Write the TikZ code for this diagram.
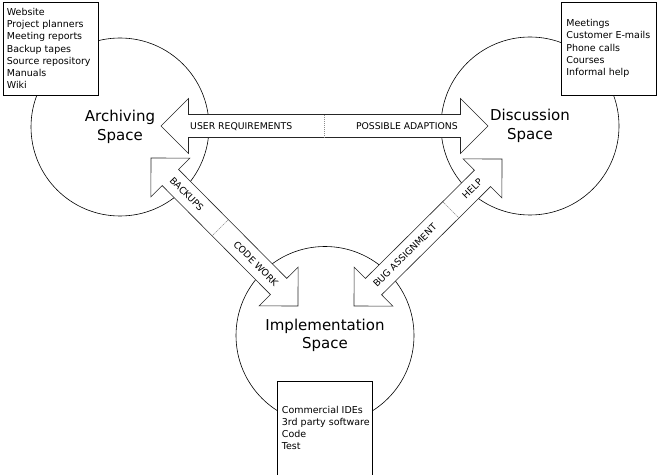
\documentclass[tikz,border=0pt]{standalone}
\usepackage{fontspec}
\setmainfont{DejaVu Sans}
\tikzset{
  spacecircle/.style={draw=black, circle, line width=0.6pt, inner sep=0pt, minimum size=178pt,
    align=center, font=\fontsize{15}{18.5}\selectfont},
  arrowbody/.style={draw=black!85, fill=white, line width=0.6pt, line join=miter},
  divider/.style={draw=black!45, line width=0.6pt, dash pattern=on 1.2pt off 0.8pt},
  arrowlabel/.style={inner sep=0pt, transform shape, text height=6.8pt, text depth=0pt,
    font=\fontsize{9.3}{11}\selectfont},
  listbox/.style={draw=black, fill=white, line width=0.6pt, minimum width=95pt, minimum height=93pt, inner sep=0pt},
  listtext/.style={anchor=west, align=left, inner sep=0pt, font=\fontsize{9.5}{12.2}\selectfont},
}
\newcommand\blockarrow[7]{%
  \begin{scope}[shift={#2}, rotate=#3]
    \draw[arrowbody] (0,0) -- (27.5,27.5) -- (27.5,11.5) -- (#4-27.5,11.5) -- (#4-27.5,27.5)
      -- (#4,0) -- (#4-27.5,-27.5) -- (#4-27.5,-11.5) -- (27.5,-11.5) -- (27.5,-27.5) -- cycle;
    \draw[divider] (#5,11.2) -- (#5,-11.2);
    \node[arrowlabel, anchor=west] (#1a) at (29,0) {#6};
    \node[arrowlabel, anchor=east] (#1b) at (#4-30,0) {#7};
  \end{scope}}
\begin{document}
\begin{tikzpicture}[x=1pt, y=1pt]
  \useasboundingbox (0,0) rectangle (658,474);
  \clip (0,0) rectangle (658,474);
  \fill[white] (0,0) rectangle (658,474);

  % spaces
  \node[spacecircle] (arch) at (120,347) {Archiving\\Space};
  \node[spacecircle] (disc) at (530,348) {Discussion\\Space};
  \node[spacecircle] (impl) at (325,138.5) {Implementation\\Space};

  % block arrows
  \blockarrow{ad}{(161,348)}{0}{327}{163}{USER REQUIREMENTS}{POSSIBLE ADAPTIONS}
  \blockarrow{ai}{(151,316)}{-45.2}{208.6}{98.3}{BACKUPS}{CODE WORK}
  \blockarrow{id}{(354,168)}{44.8}{208.6}{136.5}{BUG ASSIGNMENT}{HELP}

  % lists
  \node[listbox] (archbox) at (50.5,425.5) {};
  \node[listtext] (archlist) at ([xshift=4pt]archbox.west)
    {Website\\Project planners\\Meeting reports\\Backup tapes\\Source repository\\Manuals\\Wiki};
  \node[listbox] (discbox) at (609,425.5) {};
  \node[listtext] (disclist) at ([xshift=5pt]discbox.west)
    {Meetings\\Customer E-mails\\Phone calls\\Courses\\Informal help};
  \node[listbox, minimum height=95pt] (implbox) at (324.5,45.5) {};
  \node[listtext] (impllist) at ([xshift=5pt,yshift=0.5pt]implbox.west)
    {Commercial IDEs\\3rd party software\\Code\\Test};
\end{tikzpicture}
\end{document}
